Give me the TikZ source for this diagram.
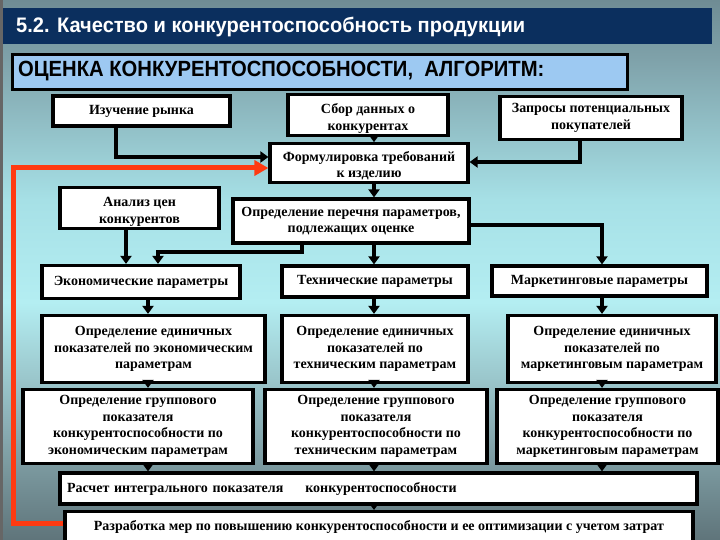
\documentclass[tikz,border=0pt]{standalone}
\usepackage{fontspec}
\usepackage{graphicx}
\setmainfont{Liberation Serif}
\newfontfamily\sansf{Liberation Sans}
\usetikzlibrary{arrows.meta,calc}
\definecolor{cb0}{HTML}{5F747A}
\definecolor{cb1}{HTML}{8CB0B6}
\definecolor{cb2}{HTML}{B4EEF2}
\definecolor{cb3}{HTML}{A6E0E6}
\definecolor{cb4}{HTML}{7FA2AA}
\definecolor{cb5}{HTML}{6F8C94}
\definecolor{navy}{HTML}{0B2F5E}
\definecolor{hdr}{HTML}{9DC9F2}
\definecolor{redc}{HTML}{FF3A12}
\pgfdeclareverticalshading{bgshade}{100bp}{color(0bp)=(cb0); color(25bp)=(cb0); color(36bp)=(cb1); color(47bp)=(cb2); color(56.5bp)=(cb3); color(69.5bp)=(cb4); color(75bp)=(cb5); color(100bp)=(cb5)}
\begin{document}
\begin{tikzpicture}[x=1pt,y=-1pt,
  bx/.style={draw=black, line width=3.2pt, fill=white, align=center, inner sep=2pt,
    font=\bfseries\fontsize{14}{16.5}\selectfont},
  conn/.style={line width=3.5pt, draw=black, -{Triangle[width=11pt,length=8pt]}},
  redconn/.style={line width=5pt, draw=redc, -{Triangle[width=15pt,length=14pt]}}]
\useasboundingbox (0,0) rectangle (720,540);
\shade[shading=bgshade] (0,0) rectangle (720,540);
\fill[black!60] (0,0) rectangle (2.5,540);
\fill[navy] (3,8) rectangle (712,44);
\node[anchor=west, text=white, inner sep=0pt, font=\sansf\bfseries\fontsize{21}{24}\selectfont] (title) at (16,27) {\scalebox{0.955}[1]{5.2. Качество и конкурентоспособность продукции}};
\node[draw=black, line width=3pt, fill=hdr, minimum width=615pt, minimum height=35pt, anchor=north west, inner sep=0pt] (hbox) at (11,53) {};
\node[anchor=west, inner sep=0pt, font=\sansf\bfseries\fontsize{22}{26}\selectfont] (htext) at (18,71) {\scalebox{0.92}[1]{ОЦЕНКА КОНКУРЕНТОСПОСОБНОСТИ,\ \ АЛГОРИТМ:}};

% columns and rows
\coordinate (cRyn) at (116,0);
\coordinate (cMid) at (374,0);
\coordinate (cZap) at (580,0);
\coordinate (cRed) at (13,0);
\coordinate (cAn) at (126,0);
\coordinate (cPer) at (302,0);
\coordinate (cEin) at (158,0);
\coordinate (cMkt) at (602,0);
\coordinate (cEco) at (148,0);
\coordinate (yRyn) at (0,157);
\coordinate (yZap) at (0,162);
\coordinate (yRed) at (0,168);
\coordinate (yPer) at (0,252);
\coordinate (yPerR) at (0,225);
\coordinate (yRaz) at (0,523);

% boxes
\node[bx, minimum width=177pt, minimum height=30pt] (rynok) at (141.5,111) {Изучение рынка};
\node[bx, minimum width=160pt, minimum height=38pt] (sbor) at (368,115) {\rule{0pt}{17pt}Сбор данных о\\конкурентах};
\node[bx, minimum width=182pt, minimum height=43pt] (zapros) at (591,118) {Запросы потенциальных\\покупателей};
\node[bx, minimum width=198pt, minimum height=38pt] (formul) at (369,163) {\rule{0pt}{15.5pt}Формулировка требований\\к изделию};
\node[bx, minimum width=159pt, minimum height=40pt] (analiz) at (139.5,208) {\rule{0pt}{17pt}Анализ цен\\конкурентов};
\node[bx, minimum width=236pt, minimum height=44pt] (perech) at (351,221) {Определение перечня параметров,\\подлежащих оценке};

\node[bx, minimum width=198pt, minimum height=33pt] (econp) at (141,282) {Экономические параметры};
\node[bx, minimum width=186pt, minimum height=31pt] (techp) at (375,281.5) {Технические параметры};
\node[bx, minimum width=215pt, minimum height=30pt] (mktp) at (599.5,281) {Маркетинговые параметры};

\node[bx, minimum width=223pt, minimum height=67pt] (econs) at (153.5,349) {Определение единичных\\показателей по экономическим\\параметрам};
\node[bx, minimum width=186pt, minimum height=67pt] (techs) at (375,349) {Определение единичных\\показателей по\\техническим параметрам};
\node[bx, minimum width=208pt, minimum height=67pt] (mkts) at (612,349) {Определение единичных\\показателей по\\маркетинговым параметрам};

\node[bx, minimum width=230pt, minimum height=74pt] (econg) at (138,426.5) {Определение группового\\показателя\\конкурентоспособности по\\экономическим параметрам};
\node[bx, minimum width=222pt, minimum height=74pt] (techg) at (376,426.5) {Определение группового\\показателя\\конкурентоспособности по\\техническим параметрам};
\node[bx, minimum width=221pt, minimum height=74pt] (mktg) at (607.5,426.5) {Определение группового\\показателя\\конкурентоспособности по\\маркетинговым параметрам};

\node[bx, minimum width=637pt, minimum height=31pt, text width=623pt, align=left, inner sep=5pt] (raschet) at (378.5,488.5) {Расчет интегрального показателя\hspace{22pt}конкурентоспособности};
\node[bx, minimum width=628pt, minimum height=36pt, anchor=north] (razrab) at (379,510) {\raisebox{8pt}{Разработка мер по повышению конкурентоспособности и ее оптимизации с учетом затрат}};

% connectors
\draw[conn] (rynok.south -| cRyn) |- (formul.west |- yRyn);
\draw[conn] (sbor.south -| cMid) -- (formul.north -| cMid);
\draw[conn] (zapros.south -| cZap) |- (formul.east |- yZap);
\draw[redconn] (razrab.west |- yRaz) -| (cRed |- yRed) -- (formul.west |- yRed);
\draw[conn] (formul.south -| cMid) -- (perech.north -| cMid);
\draw[conn] (analiz.south -| cAn) -- (econp.north -| cAn);
\draw[conn] (perech.south -| cPer) |- (cEin |- yPer) -- (econp.north -| cEin);
\draw[conn] (perech.south -| cMid) -- (techp.north -| cMid);
\draw[conn] (perech.east |- yPerR) -| (mktp.north -| cMkt);

\draw[conn] (econp.south -| cEco) -- (econs.north -| cEco);
\draw[conn] (techp.south -| cMid) -- (techs.north -| cMid);
\draw[conn] (mktp.south -| cMkt) -- (mkts.north -| cMkt);
\draw[conn] (econs.south -| cEco) -- (econg.north -| cEco);
\draw[conn] (techs.south -| cMid) -- (techg.north -| cMid);
\draw[conn] (mkts.south -| cMkt) -- (mktg.north -| cMkt);
\draw[conn] (econg.south -| cEco) -- (raschet.north -| cEco);
\draw[conn] (techg.south -| cMid) -- (raschet.north -| cMid);
\draw[conn] (mktg.south -| cMkt) -- (raschet.north -| cMkt);
\draw[conn] (raschet.south -| cMid) -- (razrab.north -| cMid);
\end{tikzpicture}
\end{document}
